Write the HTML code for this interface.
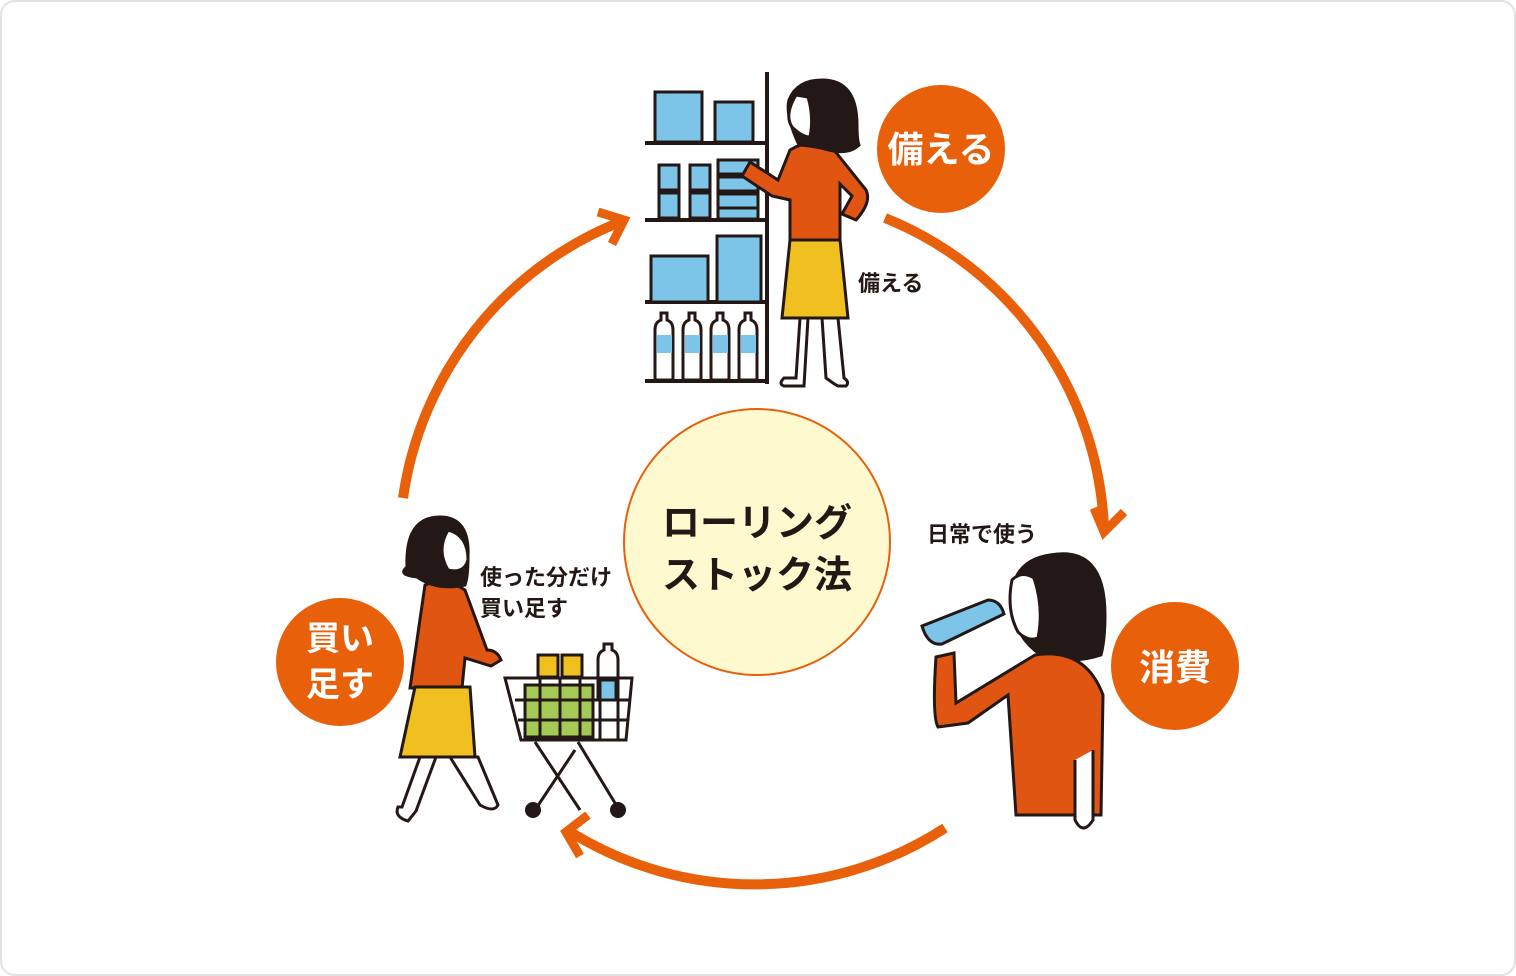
<!DOCTYPE html>
<html><head><meta charset="utf-8"><style>
html,body{margin:0;padding:0;background:#fff;}
body{width:1516px;height:976px;overflow:hidden;}
svg{display:block;}
text{font-family:"Liberation Sans","Noto Sans CJK JP",sans-serif;font-weight:bold;}
</style></head><body>
<svg width="1516" height="976" viewBox="0 0 1516 976" xmlns="http://www.w3.org/2000/svg">
<rect x="1" y="1" width="1514" height="974" rx="14" fill="#fff" stroke="#e2e2e2" stroke-width="2"/>
<g fill="none" stroke="#e8600a" stroke-width="10">
<path d="M885,218 A350,350 0 0 1 1104,528"/>
<path d="M1094,508 L1104,532 L1124,512" stroke-width="9"/>
<path d="M945,828 A350,350 0 0 1 572,833"/>
<path d="M588,815 L566,832 L580,856" stroke-width="9"/>
<path d="M403,498 A350,350 0 0 1 620,222"/>
<path d="M598,212 L624,220 L612,244" stroke-width="9"/>
</g>
<circle cx="757" cy="542" r="133" fill="#fef9cf" stroke="#e8600a" stroke-width="2"/>
<text x="757" y="536" font-size="38" text-anchor="middle" fill="#231815">ローリング</text>
<text x="757" y="588" font-size="38" text-anchor="middle" fill="#231815">ストック法</text>
<circle cx="941" cy="149" r="64" fill="#e8600a"/>
<text x="941" y="162" font-size="36" text-anchor="middle" fill="#fff">備える</text>
<circle cx="1175" cy="666" r="64" fill="#e8600a"/>
<text x="1175" y="680" font-size="36" text-anchor="middle" fill="#fff">消費</text>
<circle cx="340" cy="662" r="64" fill="#e8600a"/>
<text x="340" y="650" font-size="34" text-anchor="middle" fill="#fff">買い</text>
<text x="340" y="696" font-size="34" text-anchor="middle" fill="#fff">足す</text>
<text x="858" y="291" font-size="22" fill="#231815">備える</text>
<text x="927" y="542" font-size="22" fill="#231815">日常で使う</text>
<text x="480" y="585" font-size="22" fill="#231815">使った分だけ</text>
<text x="480" y="616" font-size="22" fill="#231815">買い足す</text>
<g stroke="#231815" stroke-width="4">
<line x1="767" y1="72" x2="767" y2="384"/>
<line x1="645" y1="143" x2="767" y2="143"/>
<line x1="645" y1="220" x2="767" y2="220"/>
<line x1="645" y1="302" x2="767" y2="302"/>
<line x1="645" y1="381" x2="767" y2="381"/>
</g>
<g fill="#7cc4e8" stroke="#231815" stroke-width="3">
<rect x="655" y="92" width="47" height="50"/>
<rect x="715" y="102" width="38" height="40"/>
<rect x="659" y="165" width="20" height="25"/><rect x="659" y="193" width="20" height="25"/>
<rect x="690" y="165" width="20" height="25"/><rect x="690" y="193" width="20" height="25"/>
<rect x="718" y="160" width="40" height="14"/><rect x="718" y="177" width="40" height="14"/><rect x="718" y="194" width="40" height="14"/><rect x="718" y="208" width="40" height="11"/>
<rect x="651" y="256" width="57" height="46"/>
<rect x="717" y="236" width="44" height="66"/>
</g>
<g stroke="#231815" stroke-width="3" fill="#fff">
<path d="M655,330 q0,-8 6,-10 v-7 h6 v7 q6,2 6,10 v50 h-18z"/>
<path d="M683,330 q0,-8 6,-10 v-7 h6 v7 q6,2 6,10 v50 h-18z"/>
<path d="M711,330 q0,-8 6,-10 v-7 h6 v7 q6,2 6,10 v50 h-18z"/>
<path d="M739,330 q0,-8 6,-10 v-7 h6 v7 q6,2 6,10 v50 h-18z"/>
</g>
<g fill="#7cc4e8"><rect x="657" y="335" width="15" height="18"/><rect x="685" y="335" width="15" height="18"/><rect x="713" y="335" width="15" height="18"/><rect x="741" y="335" width="15" height="18"/></g>
<g stroke="#231815" stroke-width="3">
<path d="M800,318 l-4,60 h-12 q-6,6 0,8 h20 l4,-68z M822,318 l4,60 q8,6 12,8 h8 q4,-4 -2,-8 l-6,-60z" fill="#fff"/>
<path d="M790,150 q20,-12 40,-5 l36,45 q6,12 -10,30 l-14,-6 l10,-18 l-12,-12 l0,56 h-50 l0,-40 l-18,-4 l-30,-20 l8,-14 l28,18z" fill="#e05512"/>
<path d="M790,240 h50 l8,78 h-66z" fill="#f0c020"/>
<path d="M822,80 q35,0 35,45 q0,15 2,20 q-10,10 -30,5 q-14,-4 -30,-5 q-14,-30 -10,-45 q8,-20 33,-20z" fill="#231815"/>
<path d="M796,95 q-12,20 -4,32 q10,10 18,10 q4,-20 -2,-40z" fill="#fff"/>
</g>
<g stroke="#231815" stroke-width="3">
<path d="M1050,555 q55,-10 55,60 q0,25 -4,40 q-30,10 -60,0 q-30,-20 -30,-60 q4,-35 39,-40z" fill="#231815"/>
<path d="M1012,580 q-6,30 6,52 q10,10 20,6 q6,-30 -4,-60 q-12,-8 -22,2z" fill="#fff"/>
<path d="M1035,655 q50,-8 68,40 l-2,120 h-85 l-8,-120 l-40,28 l-30,4 q-6,-10 -2,-70 l18,-4 l2,50 z" fill="#e05512"/>
<path d="M922,626 l66,-26 q12,0 16,14 l-62,30 q-14,2 -20,-18z" fill="#7cc4e8"/>
<path d="M1075,760 v60 q8,16 18,0 v-70" fill="#fff"/>
</g>
<g stroke="#231815" stroke-width="3">
<path d="M420,757 l-18,50 h-4 q-4,10 10,14 l8,-10 l20,-54z M450,757 l30,48 q14,8 18,0 l-20,-48z" fill="#fff"/>
<path d="M425,585 q20,-8 40,5 l22,60 q10,0 14,10 l-10,6 l-26,-8 l-3,30 h-52z" fill="#e05512"/>
<path d="M415,687 h55 l5,70 h-75z" fill="#f0c020"/>
<path d="M440,517 q30,0 28,40 q0,20 -3,28 q-28,6 -48,-8 q-20,-2 -10,-10 q-2,-50 33,-50z" fill="#231815"/>
<path d="M448,530 q-12,20 0,40 q16,4 20,-10 q0,-25 -20,-30z" fill="#fff"/>
</g>
<g stroke="#231815" stroke-width="3">
<rect x="538" y="655" width="20" height="22" fill="#f0c020"/>
<rect x="562" y="655" width="20" height="22" fill="#f0c020"/>
<path d="M598,660 q0,-8 6,-10 v-6 h8 v6 q6,2 6,10 v40 h-20z" fill="#fff"/>
<rect x="600" y="680" width="16" height="20" fill="#7cc4e8"/>
<path d="M505,678 h127 l-6,62 h-105z" fill="none"/>
<rect x="525" y="685" width="68" height="52" fill="#a5c957"/>
<path d="M515,700 h115 M518,720 h110 M540,678 v62 M560,678 v62 M580,678 v62 M600,678 v62 M618,678 v62" fill="none"/>
<path d="M535,742 l45,68 M618,808 l-40,-66 M535,810 l40,-60" fill="none"/>
</g>
<circle cx="533" cy="810" r="8" fill="#231815"/>
<circle cx="618" cy="810" r="8" fill="#231815"/>
</svg>
</body></html>
